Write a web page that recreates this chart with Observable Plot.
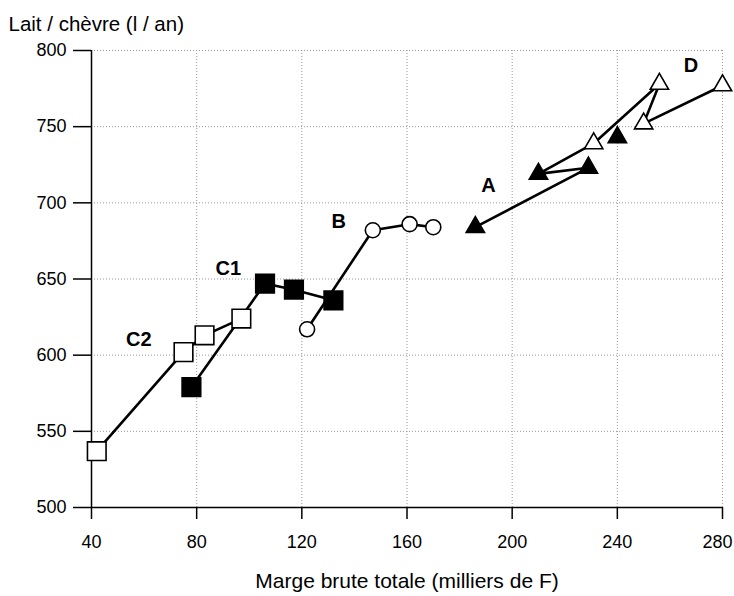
<!DOCTYPE html>
<html><head><meta charset="utf-8">
<script src="https://cdn.jsdelivr.net/npm/d3@7"></script>
<script src="https://cdn.jsdelivr.net/npm/@observablehq/plot@0.6"></script>
<style>body{margin:0;background:#fff}</style>
</head><body><div id="chart"></div>
<script>
const xTicks = [40, 80, 120, 160, 200, 240, 280];
const yTicks = [500, 550, 600, 650, 700, 750, 800];

// Groups (filled/open markers)
const A_x = [186, 229, 210, 240], A_y = [684, 723, 719, 743];
const B_x = [122, 147, 161, 170], B_y = [617, 682, 686, 684];
const C1_x = [78, 106, 117, 132], C1_y = [579, 647, 643, 636];
const C2_x = [42, 75, 83, 97],   C2_y = [537, 602, 613, 624];
const D_x = [231, 256, 250, 280], D_y = [739, 778, 752, 777];

const groupNames = ["A", "B", "C1", "C2", "D"];
const labelX = [191, 134, 92, 58, 268];
const labelY = [711, 688, 657, 610, 790];

const xTitle = "Marge brute totale (milliers de F)";
const yTitle = "Lait / chèvre (l / an)";

const pts = (xs, ys) => xs.map((x, i) => ({x, y: ys[i]}));
const A = pts(A_x, A_y), B = pts(B_x, B_y), C1 = pts(C1_x, C1_y), C2 = pts(C2_x, C2_y), D = pts(D_x, D_y);
// path of A ends on the first D point as in the figure
const pathA = [A[0], A[1], A[2], D[0]];
const labels = groupNames.map((t, i) => ({t, x: labelX[i], y: labelY[i]}));

const font = "'Liberation Sans', Arial, Helvetica, sans-serif";
const lineStyle = {x: "x", y: "y", stroke: "black", strokeWidth: 2.6};
const tickFont = 18;
const lastX = xTicks[xTicks.length - 1];

const chart = Plot.plot({
  width: 734, height: 596,
  marginLeft: 91, marginRight: 12, marginTop: 50, marginBottom: 89,
  style: {fontFamily: font, fontSize: "18px", background: "white", overflow: "visible"},
  x: {domain: [40, 280]},
  y: {domain: [500, 800]},
  marks: [
    Plot.gridX(xTicks, {stroke: "#999", strokeOpacity: 1, strokeDasharray: "1,2"}),
    Plot.gridY(yTicks, {stroke: "#999", strokeOpacity: 1, strokeDasharray: "1,2"}),
    Plot.ruleX([40], {stroke: "black", strokeWidth: 1.5}),
    Plot.ruleY([500], {stroke: "black", strokeWidth: 1.5}),
    Plot.axisY(yTicks, {tickSize: 18, tickPadding: 7, label: null, fontSize: tickFont, stroke: "black", strokeWidth: 1.5}),
    Plot.axisX(xTicks, {tickSize: 12, tickPadding: 16, label: null, fontSize: tickFont, stroke: "black", strokeWidth: 1.5,
      tickFormat: d => d === lastX ? "" : String(d)}),
    Plot.axisX([lastX], {tickSize: 0, tickPadding: 28, label: null, fontSize: tickFont, dx: -5}),
    Plot.line(C2, lineStyle),
    Plot.line(C1, lineStyle),
    Plot.line(B, lineStyle),
    Plot.line(pathA, lineStyle),
    Plot.line(D, lineStyle),
    Plot.dot(C2, {x: "x", y: "y", symbol: "square", r: 10.5, fill: "white", stroke: "black", strokeWidth: 1.6}),
    Plot.dot(C1, {x: "x", y: "y", symbol: "square", r: 10.5, fill: "black", stroke: "black", strokeWidth: 1.6}),
    Plot.dot(B, {x: "x", y: "y", symbol: "circle", r: 7.5, fill: "white", stroke: "black", strokeWidth: 1.6}),
    Plot.dot(D, {x: "x", y: "y", symbol: "triangle", r: 6.8, fill: "white", stroke: "black", strokeWidth: 1.6}),
    Plot.dot(A, {x: "x", y: "y", symbol: "triangle", r: 6.8, fill: "black", stroke: "black", strokeWidth: 1.6}),
    Plot.text(labels, {x: "x", y: "y", text: "t", fontWeight: "bold", fontSize: 20, fill: "black"}),
    Plot.text([yTitle], {frameAnchor: "top-left", dx: -83, dy: -34, textAnchor: "start", fontSize: 20.5, fill: "black"}),
    Plot.text([xTitle], {frameAnchor: "bottom", dy: 80, fontSize: 21, fill: "black"})
  ]
});
document.getElementById("chart").append(chart);
</script>
</body></html>
